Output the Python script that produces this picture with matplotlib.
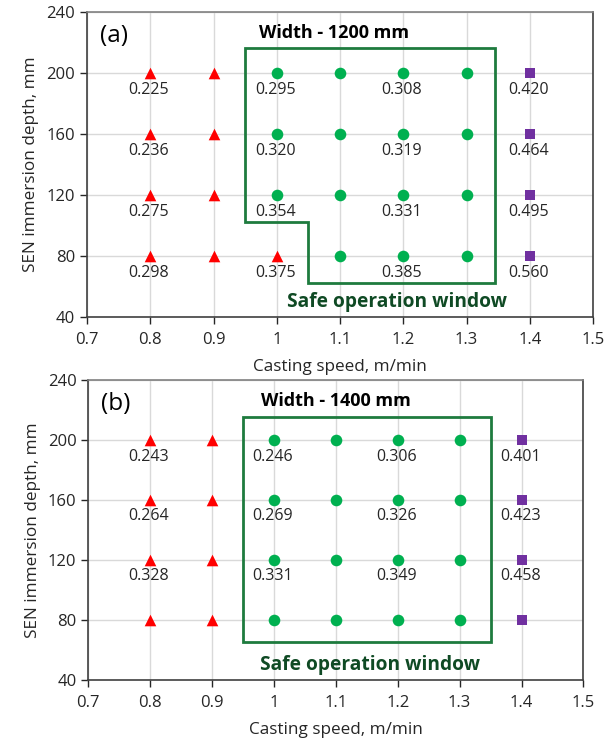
import matplotlib.pyplot as plt
from matplotlib.patches import Polygon

plt.rcParams['font.family'] = ['Open Sans', 'DejaVu Sans']

# casting speed (m/min) and SEN immersion depth (mm) grid
depths = [200, 160, 120, 80]
speeds_tri = [0.8, 0.9]
speeds_circ = [1.0, 1.1, 1.2, 1.3]
speed_sq = 1.4

# (a) width 1200 mm: labels at x = 0.8, 1.0, 1.2, 1.4 for each depth
lab_x = [0.8, 1.0, 1.2, 1.4]
labels_a = {
    0.8: ['0.225', '0.236', '0.275', '0.298'],
    1.0: ['0.295', '0.320', '0.354', '0.375'],
    1.2: ['0.308', '0.319', '0.331', '0.385'],
    1.4: ['0.420', '0.464', '0.495', '0.560'],
}
# (b) width 1400 mm: no labels at 80 mm
labels_b = {
    0.8: ['0.243', '0.264', '0.328', ''],
    1.0: ['0.246', '0.269', '0.331', ''],
    1.2: ['0.306', '0.326', '0.349', ''],
    1.4: ['0.401', '0.423', '0.458', ''],
}
# window outlines
win_a = [(0.95, 216), (1.345, 216), (1.345, 62), (1.05, 62), (1.05, 102), (0.95, 102)]
win_b = [(0.95, 215), (1.35, 215), (1.35, 65), (0.95, 65)]

RED = '#FF0000'
GREEN = '#00B050'
PURPLE = '#7030A0'
DKGREEN = '#1E7B3E'
TXTGREEN = '#0F4A24'


def panel(ax, tag, width_txt, labels, win, red_at_1=False, safe_x=1.19, width_x=1.09):
    tri = [(s, d) for s in speeds_tri for d in depths]
    circ = [(s, d) for s in speeds_circ for d in depths]
    if red_at_1:
        tri.append((1.0, 80))
        circ.remove((1.0, 80))
    ax.scatter([p[0] for p in tri], [p[1] for p in tri], marker='^', s=70,
               color=RED, zorder=4, linewidths=0)
    ax.scatter([p[0] for p in circ], [p[1] for p in circ], marker='o', s=70,
               color=GREEN, zorder=4, linewidths=0)
    ax.scatter([speed_sq] * len(depths), depths, marker='s', s=50,
               color=PURPLE, zorder=4, linewidths=0)

    for x in lab_x:
        for d, t in zip(depths, labels[x]):
            if t:
                ax.annotate(t, (x, d), xytext=(-1, -12), textcoords='offset points',
                            ha='center', va='center', fontsize=11.5, color='#262626')

    ax.add_patch(Polygon(win, closed=True, fill=False, edgecolor=DKGREEN, lw=2, zorder=3))

    ax.text(0.72, 224, tag, fontsize=17.5, va='center', ha='left', color='black')
    ax.text(width_x, 226, width_txt, fontsize=13, fontweight='bold', ha='center',
            va='center', color='black')
    ax.text(safe_x, 50, 'Safe operation window', fontsize=13.8, fontweight='bold',
            ha='center', va='center', color=TXTGREEN)

    ax.set_xlim(0.7, 1.5)
    ax.set_ylim(40, 240)
    ax.set_xticks([0.7, 0.8, 0.9, 1.0, 1.1, 1.2, 1.3, 1.4, 1.5])
    ax.set_xticklabels(['0.7', '0.8', '0.9', '1', '1.1', '1.2', '1.3', '1.4', '1.5'])
    ax.set_yticks([40, 80, 120, 160, 200, 240])
    ax.grid(True, color='#D9D9D9', lw=1)
    ax.set_axisbelow(True)
    for sp in ax.spines.values():
        sp.set_color('#404040')
        sp.set_linewidth(1.2)
    ax.spines['top'].set_color('#808080')
    ax.tick_params(labelsize=12, colors='#262626', length=5, width=1, direction='out')
    ax.tick_params(axis='x', pad=6)
    ax.set_xlabel('Casting speed, m/min', fontsize=12.3, color='#262626', labelpad=8)
    ax.set_ylabel('SEN immersion depth, mm', fontsize=12.3, color='#262626', labelpad=5)


fig = plt.figure(figsize=(6.04, 7.42), dpi=100)
ax1 = fig.add_axes([0.144, 0.573, 0.838, 0.411])
ax2 = fig.add_axes([0.146, 0.084, 0.820, 0.404])

panel(ax1, '(a)', 'Width - 1200 mm', labels_a, win_a, red_at_1=True, safe_x=1.19, width_x=1.09)
panel(ax2, '(b)', 'Width - 1400 mm', labels_b, win_b, red_at_1=False, safe_x=1.155, width_x=1.1)

fig.savefig('out.png', dpi=100)
